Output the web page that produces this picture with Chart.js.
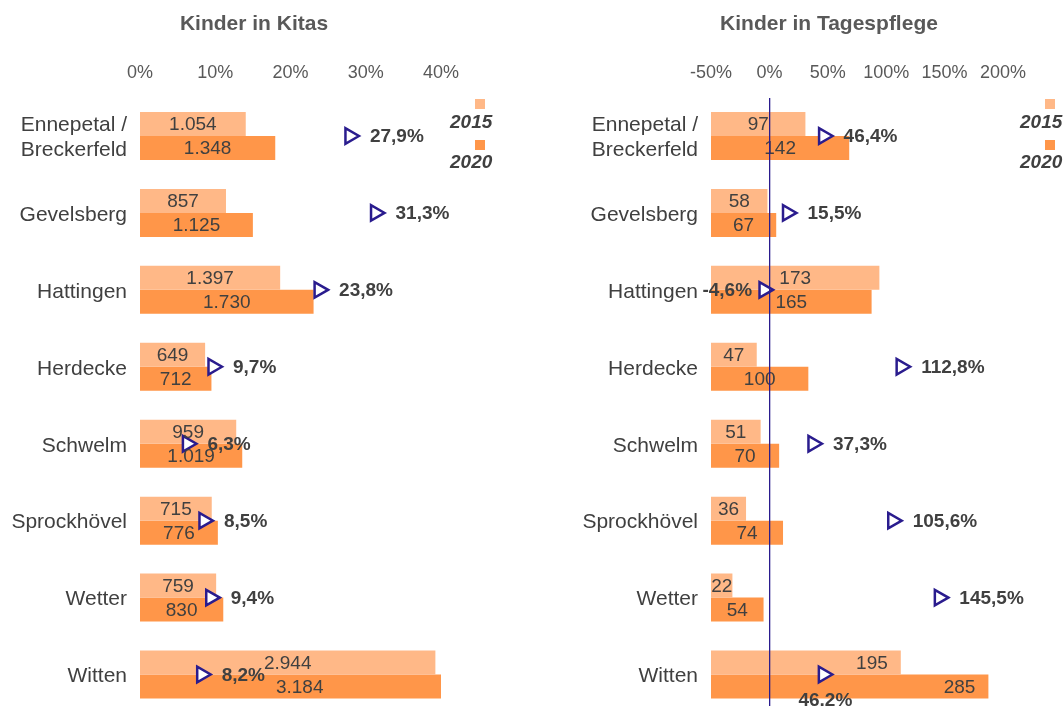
<!DOCTYPE html>
<html lang="de">
<head>
<meta charset="utf-8">
<script src="https://cdn.jsdelivr.net/npm/chart.js@4/dist/chart.umd.min.js"></script>
<style>
  html, body { margin: 0; padding: 0; width: 1064px; height: 706px; overflow: hidden; background: #fff; }
  body { position: relative; font-family: 'Liberation Sans', Arial, sans-serif; }
  .feld { position: absolute; top: 0; width: 532px; height: 714px; }
  .titel { position: absolute; top: 11px; width: 300px; text-align: center; font-size: 21px; font-weight: bold; color: #595959; line-height: 24px; }
  .kasten { position: absolute; width: 10px; height: 10px; }
  .jahr { position: absolute; font-size: 19px; font-weight: bold; font-style: italic; color: #404040; line-height: 22px; }
</style>
</head>
<body>

<div class="feld" style="left:0"><canvas id="kitaChart"></canvas></div>
<div class="feld" style="left:532px"><canvas id="pflegeChart"></canvas></div>

<div class="titel" style="left:104px">Kinder in Kitas</div>
<div class="titel" style="left:679px">Kinder in Tagespflege</div>

<div class="kasten" style="left:475px;top:99px;background:#FFB887"></div>
<div class="jahr" style="left:450px;top:111px">2015</div>
<div class="kasten" style="left:475px;top:140px;background:#FF9649"></div>
<div class="jahr" style="left:450px;top:151px">2020</div>

<div class="kasten" style="left:1045px;top:99px;background:#FFB887"></div>
<div class="jahr" style="left:1020px;top:111px">2015</div>
<div class="kasten" style="left:1045px;top:140px;background:#FF9649"></div>
<div class="jahr" style="left:1020px;top:151px">2020</div>

<script>

const orte = [
  ['Ennepetal /', 'Breckerfeld'],
  'Gevelsberg',
  'Hattingen',
  'Herdecke',
  'Schwelm',
  'Sprockhövel',
  'Wetter',
  'Witten'
];

const jahre = ['2015', '2020'];

// Kinder in Kitas
const kita2015 = [1054, 857, 1397, 649, 959, 715, 759, 2944];
const kita2020 = [1348, 1125, 1730, 712, 1019, 776, 830, 3184];
const kitaVeraenderung = [27.9, 31.3, 23.8, 9.7, 6.3, 8.5, 9.4, 8.2];
const kitaProzentTicks = [0, 10, 20, 30, 40];

// Kinder in Tagespflege
const pflege2015 = [97, 58, 173, 47, 51, 36, 22, 195];
const pflege2020 = [142, 67, 165, 100, 70, 74, 54, 285];
const pflegeVeraenderung = [46.4, 15.5, -4.6, 112.8, 37.3, 105.6, 145.5, 46.2];
const pflegeProzentTicks = [-50, 0, 50, 100, 150, 200];

const farbeHell = '#FFB887';
const farbeDunkel = '#FF9649';
const farbeMarker = '#2A1C8E';
const schrift = "'Liberation Sans', Arial, sans-serif";

function formatZahl(value) {
  return String(value).replace(/\B(?=(\d{3})+(?!\d))/g, '.');
}

function formatProzent(value) {
  return value.toFixed(1).replace('.', ',') + '%';
}

// Werte in den Balken und Prozentangaben neben den Dreiecken
const beschriftung = {

  id: 'beschriftung',

  afterDatasetsDraw(chart, args, opts) {

    const ctx = chart.ctx;
    const xs = chart.scales.x;

    ctx.save();
    ctx.fillStyle = '#404040';
    ctx.textBaseline = 'middle';

    ctx.font = '19px ' + schrift;

    [0, 1].forEach(di => {

      const werte = chart.data.datasets[di].data;

      chart.getDatasetMeta(di).data.forEach((bar, i) => {

        if (opts.endeIdx.includes(i)) {
          ctx.textAlign = 'right';
          ctx.fillText(werte[i], bar.x - 13, bar.y + 1);
        } else {
          ctx.textAlign = 'center';
          ctx.fillText(
            formatZahl(werte[i]),
            xs.getPixelForValue(werte[i] / 2),
            bar.y + 1
          );
        }
      });
    });

    ctx.font = 'bold 19px ' + schrift;

    const prozente = chart.data.datasets[2].data;

    chart.getDatasetMeta(2).data.forEach((pt, i) => {

      const text = formatProzent(prozente[i]);
      const lage = opts.lage[i] || 'rechts';

      if (lage === 'links') {
        ctx.textAlign = 'right';
        ctx.fillText(text, pt.x - 12, pt.y + 1);
      } else if (lage === 'unten') {
        ctx.textAlign = 'center';
        ctx.fillText(text, pt.x + 2, pt.y + 26);
      } else {
        ctx.textAlign = 'left';
        ctx.fillText(text, pt.x + 20, pt.y + 1);
      }
    });

    ctx.restore();
  }
};

function ohnePadding(s) {
  s.paddingTop = 0;
  s.paddingBottom = 0;
}

function baueChart(id, werte2015, werte2020, veraenderung, ticks, balkenMax, yBreite, rechts, nullLinie, lage, endeIdx) {

  new Chart(
    document.getElementById(id),
    {
      type: 'bar',

      data: {

        labels: orte,

        datasets: [
          {
            label: jahre[0],
            data: werte2015,
            order: 1,
            backgroundColor: farbeHell,
            borderWidth: 0,
            xAxisID: 'x',
            categoryPercentage: 0.624,
            barPercentage: 1
          },
          {
            label: jahre[1],
            data: werte2020,
            order: 2,
            backgroundColor: farbeDunkel,
            borderWidth: 0,
            xAxisID: 'x',
            categoryPercentage: 0.624,
            barPercentage: 1
          },
          {
            type: 'line',
            label: 'Veränderung',
            data: veraenderung,
            order: 0,
            indexAxis: 'y',
            xAxisID: 'xp',
            yAxisID: 'y',
            showLine: false,
            pointStyle: 'triangle',
            rotation: 90,
            pointRadius: 9,
            pointHoverRadius: 9,
            pointBorderWidth: 2.5,
            pointBorderColor: farbeMarker,
            pointBackgroundColor: '#fff'
          }
        ]
      },

      options: {

        indexAxis: 'y',
        responsive: false,
        animation: false,

        layout: {
          autoPadding: false,
          padding: { top: 40, right: rechts, left: 0, bottom: 1 }
        },

        plugins: {
          legend: { display: false },
          tooltip: { enabled: false },
          beschriftung: { lage: lage, endeIdx: endeIdx }
        },

        scales: {

          x: {
            display: false,
            min: 0,
            max: balkenMax
          },

          xp: {
            position: 'top',
            min: ticks[0],
            max: ticks[ticks.length - 1],
            afterBuildTicks: s => {
              s.ticks = ticks.map(v => ({ value: v }));
            },
            afterFit: s => { s.height = 57.5; },
            border: { display: false },
            grid: {
              display: nullLinie,
              drawTicks: false,
              z: 1,
              lineWidth: 1.3,
              color: c => (c.tick && c.tick.value === 0) ? farbeMarker : 'rgba(0,0,0,0)'
            },
            ticks: {
              padding: 14,
              color: '#595959',
              font: { family: schrift, size: 18 },
              callback: v => v + '%'
            }
          },

          y: {
            afterFit: s => {
              s.width = yBreite;
              ohnePadding(s);
            },
            border: { display: false },
            grid: { display: false, drawTicks: false },
            ticks: {
              padding: 13,
              labelOffset: 2,
              color: '#404040',
              font: { family: schrift, size: 21, lineHeight: 1.2 }
            }
          }
        }
      },

      plugins: [beschriftung]
    }
  );
}

document.getElementById('kitaChart').width = 532;
document.getElementById('kitaChart').height = 714;
document.getElementById('pflegeChart').width = 532;
document.getElementById('pflegeChart').height = 714;

baueChart('kitaChart', kita2015, kita2020, kitaVeraenderung, kitaProzentTicks,
  3000, 140, 91, false, {}, []);

baueChart('pflegeChart', pflege2015, pflege2020, pflegeVeraenderung, pflegeProzentTicks,
  300, 179, 61, true, { 2: 'links', 7: 'unten' }, [7]);

</script>
</body>
</html>
